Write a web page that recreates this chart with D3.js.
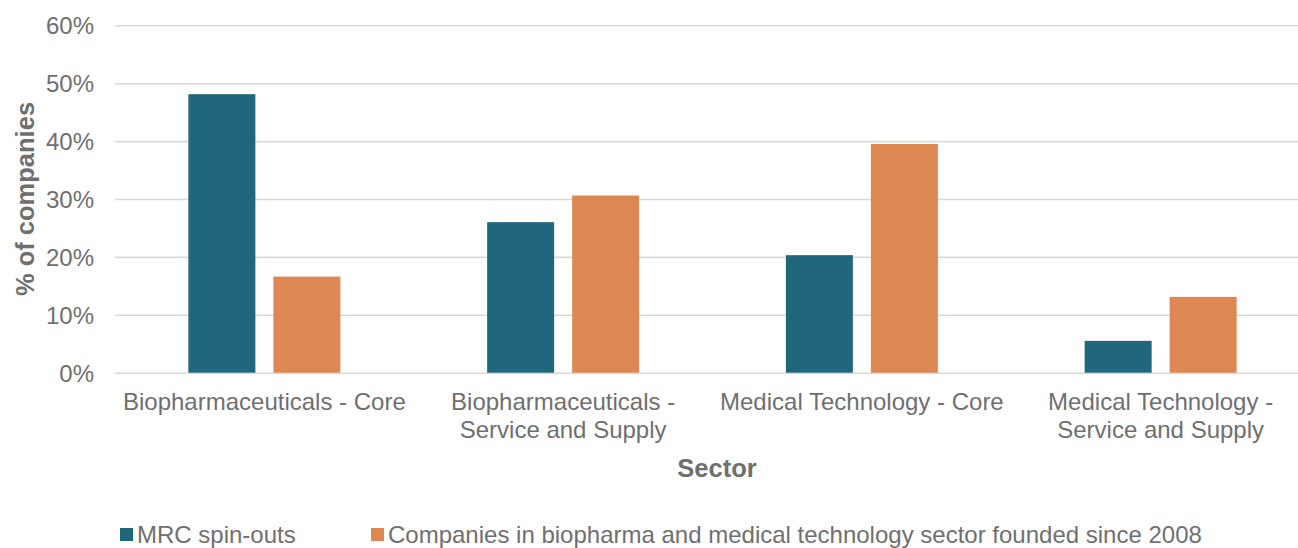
<!DOCTYPE html>
<html>
<head>
<meta charset="utf-8">
<script src="https://cdn.jsdelivr.net/npm/d3@7"></script>
<style>
  html, body { margin: 0; padding: 0; background: #fff; }
  svg { display: block; font-family: "Liberation Sans", Arial, sans-serif; }
</style>
</head>
<body>
<svg id="chart" width="1298" height="548"></svg>
<script>
// Sector categories (label lines) and the share of companies in each
const categories = [
  ["Biopharmaceuticals - Core"],
  ["Biopharmaceuticals -", "Service and Supply"],
  ["Medical Technology - Core"],
  ["Medical Technology -", "Service and Supply"]
];
const seriesNames = [
  "MRC spin-outs",
  "Companies in biopharma and medical technology sector founded since 2008"
];
const mrcSpinOuts = [48.1, 26.0, 20.3, 5.5];
const sectorSince2008 = [16.6, 30.6, 39.5, 13.1];
const yTicks = [0, 10, 20, 30, 40, 50, 60];

const colors = ["#21677b", "#dd8852"];
const textColor = "#6f6f6f";
const labelSize = "24px";
const titleSize = "25.5px";

const svg = d3.select("#chart");
const margin = { left: 115, right: -12, top: 25.3, bottom: 175.3 };
const W = 1298, H = 548;

const x = d3.scaleBand()
  .domain(d3.range(categories.length))
  .range([margin.left, W - margin.right])
  .paddingInner(0).paddingOuter(0);

const y = d3.scaleLinear()
  .domain([0, 60])
  .range([H - margin.bottom, margin.top]);

// Inner band for the two series: bars 67px wide with an 18px gap
const groupPad = (x.bandwidth() - 152) / 2;
const xs = d3.scaleBand()
  .domain([0, 1])
  .range([groupPad, x.bandwidth() - groupPad])
  .paddingInner(18 / 152 * 2 / (1 + 18 / 152))
  .paddingOuter(0);

// Gridlines and y tick labels
const yAxis = d3.axisLeft(y)
  .tickValues(yTicks)
  .tickSize(-(W - margin.right - margin.left))
  .tickFormat(d => d + "%");

const gy = svg.append("g")
  .attr("transform", `translate(${margin.left},0)`)
  .call(yAxis);
gy.select(".domain").remove();
gy.selectAll(".tick line")
  .attr("stroke", "#d9d9d9")
  .attr("stroke-width", 1.6);
gy.selectAll(".tick text")
  .attr("x", -21)
  .attr("dy", "0.36em")
  .attr("fill", textColor)
  .style("font-size", labelSize);

// Bars
const series = [mrcSpinOuts, sectorSince2008];
const groups = svg.append("g").selectAll("g")
  .data(categories.map((c, i) => i))
  .join("g")
  .attr("transform", i => `translate(${x(i)},0)`);

groups.selectAll("rect")
  .data(i => series.map((s, k) => ({ k, v: s[i] })))
  .join("rect")
  .attr("x", d => xs(d.k))
  .attr("width", xs.bandwidth())
  .attr("y", d => y(d.v))
  .attr("height", d => y(0) - y(d.v))
  .attr("fill", d => colors[d.k]);

// Category labels
const xLabels = svg.append("g");
categories.forEach((lines, i) => {
  const t = xLabels.append("text")
    .attr("text-anchor", "middle")
    .attr("fill", textColor)
    .style("font-size", labelSize);
  lines.forEach((line, j) => {
    t.append("tspan")
      .attr("x", x(i) + x.bandwidth() / 2)
      .attr("y", 409.5 + j * 28.5)
      .text(line);
  });
});

// Axis titles
svg.append("text")
  .attr("x", 717)
  .attr("y", 477)
  .attr("text-anchor", "middle")
  .attr("fill", textColor)
  .style("font-size", titleSize)
  .style("font-weight", "bold")
  .text("Sector");

svg.append("text")
  .attr("transform", `translate(34,${(y(0) + y(60)) / 2}) rotate(-90)`)
  .attr("text-anchor", "middle")
  .attr("fill", textColor)
  .style("font-size", titleSize)
  .style("font-weight", "bold")
  .text("% of companies");

// Legend
const legendItems = [
  { x: 120, name: seriesNames[0], color: colors[0] },
  { x: 371, name: seriesNames[1], color: colors[1] }
];
const legend = svg.append("g");
legendItems.forEach(it => {
  legend.append("rect")
    .attr("x", it.x)
    .attr("y", 528)
    .attr("width", 13)
    .attr("height", 13)
    .attr("fill", it.color);
  legend.append("text")
    .attr("x", it.x + 17)
    .attr("y", 543)
    .attr("fill", textColor)
    .style("font-size", labelSize)
    .text(it.name);
});
</script>
</body>
</html>
